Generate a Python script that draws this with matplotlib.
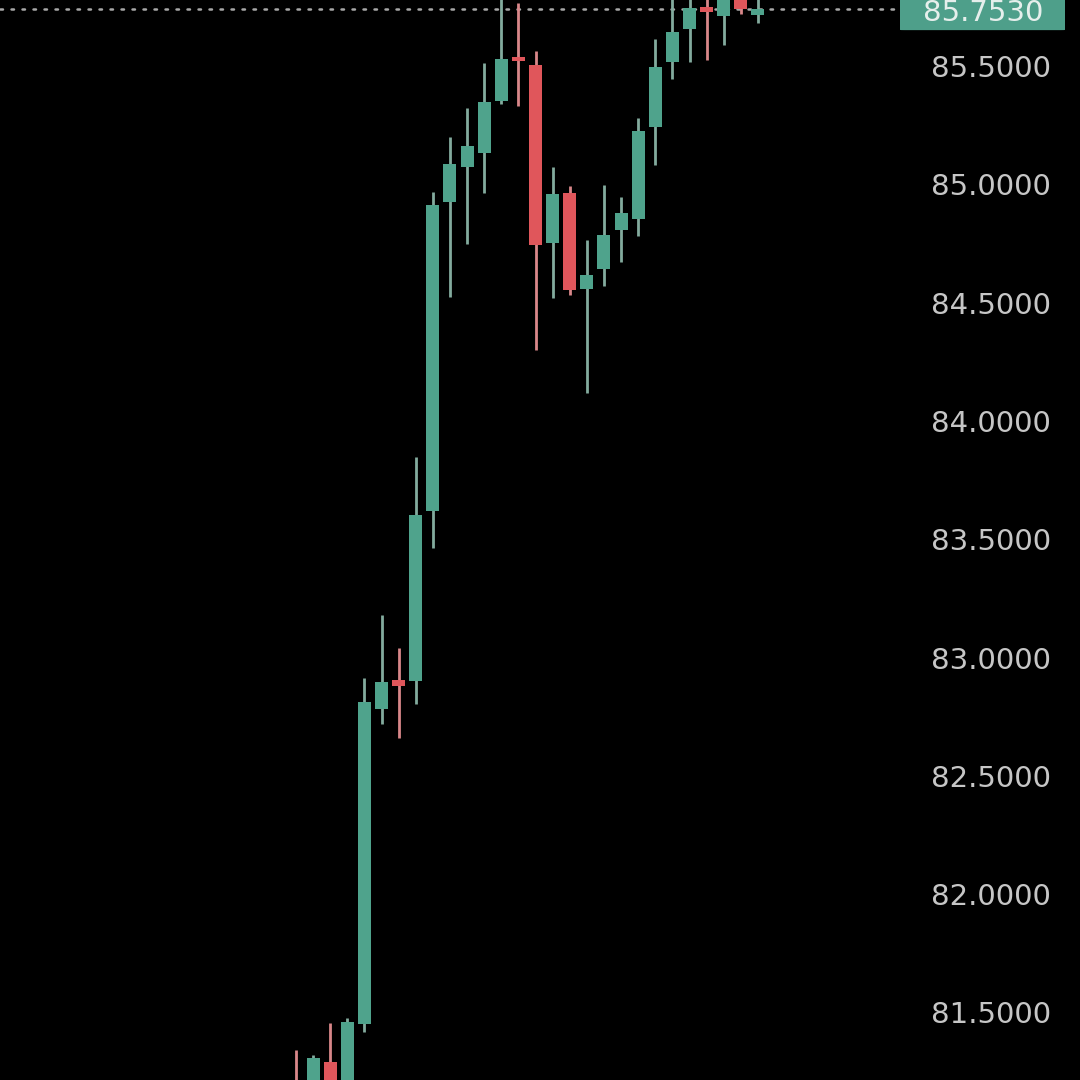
import matplotlib
matplotlib.use("Agg")
import matplotlib.pyplot as plt
from matplotlib.patches import FancyBboxPatch
import matplotlib.transforms as mtransforms
import numpy as np

# ---- data ----
opens = [81.20, 81.15, 81.303, 81.20, 81.464, 82.795, 82.918, 82.913, 83.632, 84.938,
         85.086, 85.145, 85.365, 85.546, 85.517, 84.765, 84.976, 84.570, 84.655, 84.820,
         84.866, 85.255, 85.530, 85.669, 85.762, 85.724, 85.800, 85.728]
highs = [81.354, 81.333, 81.468, 81.489, 82.926, 83.192, 83.053, 83.860, 84.980, 85.213,
         85.335, 85.525, 85.820, 85.779, 85.576, 85.086, 85.005, 84.777, 85.010, 84.959,
         85.293, 85.627, 85.820, 85.820, 85.820, 85.830, 85.830, 85.810]
lows = [81.08, 81.10, 81.15, 81.17, 81.430, 82.732, 82.672, 82.816, 83.475, 84.536,
        84.760, 84.976, 85.352, 85.344, 84.312, 84.532, 84.545, 84.131, 84.583, 84.684,
        84.794, 85.094, 85.458, 85.530, 85.538, 85.601, 85.732, 85.694]
closes = [81.12, 81.320, 81.20, 81.472, 82.825, 82.909, 82.892, 83.615, 84.925, 85.098,
          85.175, 85.361, 85.542, 85.534, 84.756, 84.972, 84.566, 84.629, 84.798, 84.891,
          85.238, 85.508, 85.656, 85.758, 85.741, 85.800, 85.752, 85.753]
tick_values = [81.5, 82.0, 82.5, 83.0, 83.5, 84.0, 84.5, 85.0, 85.5]
tick_labels = ["81.5000", "82.0000", "82.5000", "83.0000", "83.5000",
               "84.0000", "84.5000", "85.0000", "85.5000"]
last_price = 85.753
last_label = "85.7530"

GREEN = "#4fa38c"
RED = "#e0565b"
GREEN_WICK = "#83ab9e"
RED_WICK = "#d9878a"
BG = "#000000"
TXT = "#c6c6c6"

fig = plt.figure(figsize=(10.8, 10.8), dpi=100, facecolor=BG)
ax = fig.add_axes([0, 0, 1, 1])
ax.set_facecolor(BG)
for s in ax.spines.values():
    s.set_visible(False)
ax.set_xticks([])
ax.set_yticks([])

n = len(opens)
idx = np.arange(n)
o = np.array(opens); c = np.array(closes); h = np.array(highs); l = np.array(lows)
up = c >= o
colors = np.where(up, GREEN, RED)
wick_colors = np.where(up, GREEN_WICK, RED_WICK)

# wicks
ax.vlines(idx, l, h, colors=wick_colors, linewidth=2.0, zorder=2)
# bodies
body_bottom = np.minimum(o, c)
body_h = np.maximum(np.abs(c - o), 0.018)
ax.bar(idx, body_h, bottom=body_bottom, width=0.76, color=colors,
       edgecolor="none", zorder=3)

# scale: candle spacing ~17.11 px, first candle at x=296 px
step = 17.11
ax.set_xlim(-296 / step, (1080 - 296) / step)
ax.set_ylim(81.227, 85.7916)

# last price dotted line
ax.plot([-296 / step, (900 - 296) / step], [last_price, last_price],
        color="#a8a8a8", linewidth=1.8, linestyle=(0, (1, 3.4)), zorder=1,
        dash_capstyle="round")

trans = mtransforms.blended_transform_factory(ax.transAxes, ax.transData)
for v, t in zip(tick_values, tick_labels):
    ax.text(1051 / 1080, v, t, transform=trans, ha="right", va="center",
            fontsize=21, color=TXT, family="DejaVu Sans")

# last price box
ppu = 1080 / (85.7916 - 81.227)
box_h = 42 / ppu
box = FancyBboxPatch((900 / 1080, last_price - box_h / 2), 165 / 1080, box_h,
                     boxstyle="round,pad=0,rounding_size=0.004",
                     transform=trans, facecolor="#4e9f8a", edgecolor="none",
                     zorder=5, clip_on=False, mutation_aspect=ppu / 1080)
ax.add_patch(box)
ax.text(983 / 1080, last_price - 3.5 / ppu, last_label, transform=trans,
        ha="center", va="center", fontsize=21, color="#e6efec",
        family="DejaVu Sans", zorder=6)

fig.savefig("out.png", dpi=100, facecolor=BG)
